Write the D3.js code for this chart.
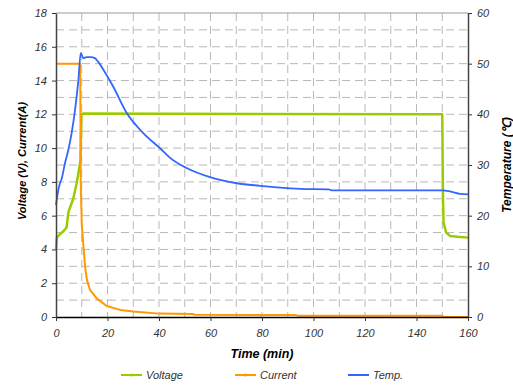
<!DOCTYPE html>
<html>
<head>
<meta charset="utf-8">
<script src="https://cdn.jsdelivr.net/npm/d3@7/dist/d3.min.js"></script>
<style>
	body { margin: 0; background: #fff; }
	svg text { font-family: "Liberation Sans", Arial, sans-serif; }
</style>
</head>
<body>
<div id="chart"></div>
<script>
// time (min), value pairs
var voltage = [[0,4.0],[0.3,4.7],[1.5,4.9],[3,5.1],[4.1,5.3],[4.8,6.2],[6.7,7.0],[8,7.9],[8.8,8.6],[9.5,9.3],[9.9,12.0],[10.5,12.05],[150,12.0],[150.3,7.0],[150.5,5.6],[151.5,5.0],[153,4.8],[156,4.75],[160,4.7]];
var current = [[0,15],[9.4,15],[9.6,8],[10,5.5],[10.5,4.5],[11.3,3.0],[12,2.2],[13.2,1.6],[15.8,1.1],[19.7,0.65],[24.9,0.42],[30,0.32],[40,0.2],[53,0.18],[54,0.13],[93,0.12],[94,0.08],[150,0.08],[150.5,0],[160,0]];
var temperature = [[0,22.1],[0.9,25.1],[1.6,26.5],[2.2,27.3],[3.5,30.4],[4.8,33],[6.1,36.4],[7.4,40.9],[8.7,46.8],[9.6,52.1],[10.6,51.1],[11.9,51.3],[13.5,51.3],[15.1,51.1],[16.5,50.3],[18.4,48.8],[22.2,45.5],[27.4,40.3],[33.9,36.3],[40.4,33.3],[44.3,31.4],[50.7,29.4],[59.8,27.6],[70.2,26.4],[79.2,25.9],[85.7,25.6],[95,25.3],[106,25.2],[107,25.0],[150,25.0],[153,24.8],[157,24.3],[160,24.2]];

var timeTicks = [0,20,40,60,80,100,120,140,160];
var leftTicks = [0,2,4,6,8,10,12,14,16,18];
var rightTicks = [0,10,20,30,40,50,60];

var series = [
	{name: "Voltage", data: voltage, color: "#99cc00", width: 2.5, axis: "left", curve: d3.curveLinear},
	{name: "Current", data: current, color: "#ff9900", width: 2, axis: "left", curve: d3.curveLinear},
	{name: "Temp.", data: temperature, color: "#3366ff", width: 1.8, axis: "right", curve: d3.curveMonotoneX}
];

var W = 513, H = 385;
var m = {left: 56, right: 45, top: 13, bottom: 68};
var w = W - m.left - m.right, h = H - m.top - m.bottom;

var svg = d3.select("#chart").append("svg")
	.attr("width", W).attr("height", H);
var g = svg.append("g").attr("transform", "translate(" + m.left + "," + m.top + ")");

var x = d3.scaleLinear().domain([0,160]).range([0,w]);
var yL = d3.scaleLinear().domain([0,18]).range([h,0]);
var yR = d3.scaleLinear().domain([0,60]).range([h,0]);

// grid
g.append("g").selectAll("line").data(d3.range(1,18)).enter().append("line")
	.attr("x1", 0).attr("x2", w)
	.attr("y1", function(d) { return yL(d); }).attr("y2", function(d) { return yL(d); })
	.attr("stroke", "#b8b8b8").attr("stroke-dasharray", "8,5");
g.append("g").selectAll("line").data(d3.range(10,160,10)).enter().append("line")
	.attr("y1", 0).attr("y2", h)
	.attr("x1", function(d) { return x(d); }).attr("x2", function(d) { return x(d); })
	.attr("stroke", "#b8b8b8").attr("stroke-dasharray", "8,5");
g.append("line").attr("x1", 0).attr("x2", w).attr("y1", 0).attr("y2", 0)
	.attr("stroke", "#999");

// lines
series.forEach(function(s) {
	var yy = s.axis == "left" ? yL : yR;
	var line = d3.line()
		.curve(s.curve)
		.x(function(d) { return x(d[0]); })
		.y(function(d) { return yy(d[1]); });
	g.append("path").datum(s.data)
		.attr("d", line)
		.attr("fill", "none")
		.attr("stroke", s.color)
		.attr("stroke-width", s.width)
		.attr("stroke-linejoin", "round");
});

// axes
function styleAxis(sel) {
	sel.selectAll("text").attr("font-size", "11px").attr("font-style", "italic").attr("fill", "#333");
	sel.selectAll("line").attr("stroke", "#333");
}
var ax = g.append("g").attr("transform", "translate(0," + h + ")")
	.call(d3.axisBottom(x).tickValues(timeTicks).tickSize(4).tickSizeOuter(0).tickPadding(8));
styleAxis(ax);
ax.select(".domain").attr("stroke", "#000").attr("stroke-width", 1.5);

var al = g.append("g")
	.call(d3.axisLeft(yL).tickValues(leftTicks).tickSize(4).tickSizeOuter(0).tickPadding(5));
styleAxis(al);
al.select(".domain").attr("stroke", "#444").attr("stroke-width", 1.5);

var ar = g.append("g").attr("transform", "translate(" + w + ",0)")
	.call(d3.axisRight(yR).tickValues(rightTicks).tickSize(4).tickSizeOuter(0).tickPadding(5));
styleAxis(ar);
ar.select(".domain").attr("stroke", "#444").attr("stroke-width", 1.5);

// titles
svg.append("text").attr("x", m.left + w / 2).attr("y", 358)
	.attr("text-anchor", "middle").attr("font-size", "12.5px")
	.attr("font-weight", "bold").attr("font-style", "italic").text("Time (min)");
svg.append("text").attr("transform", "translate(26,161) rotate(-90)")
	.attr("text-anchor", "middle").attr("font-size", "11px")
	.attr("font-weight", "bold").attr("font-style", "italic").text("Voltage (V), Current(A)");
svg.append("text").attr("transform", "translate(511,165) rotate(-90)")
	.attr("text-anchor", "middle").attr("font-size", "12px")
	.attr("font-weight", "bold").attr("font-style", "italic").text("Temperature (\u2103)");

// legend
var legX = [121, 235, 348];
var leg = svg.append("g").selectAll("g").data(series).enter().append("g")
	.attr("transform", function(d, i) { return "translate(" + legX[i] + ",375)"; });
leg.append("line").attr("x1", 0).attr("x2", 21).attr("y1", 0).attr("y2", 0)
	.attr("stroke", function(d) { return d.color; }).attr("stroke-width", 2);
leg.filter(function(d, i) { return i < 2; }).append("circle")
	.attr("cx", 10.5).attr("cy", 0).attr("r", 1.5)
	.attr("fill", function(d) { return d.color; });
leg.append("text").attr("x", 25).attr("y", 4)
	.attr("font-size", "11px").attr("font-style", "italic").attr("fill", "#333")
	.text(function(d) { return d.name; });
</script>
</body>
</html>
